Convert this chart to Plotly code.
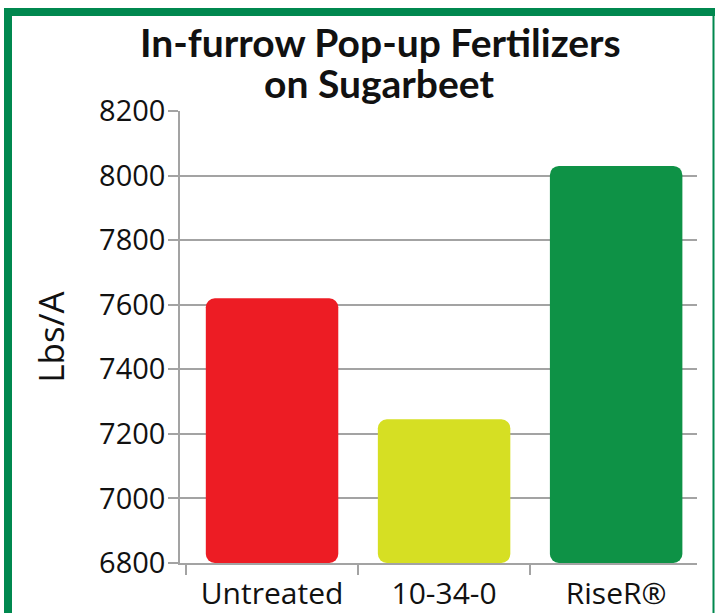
import plotly.graph_objects as go

# ---- data ----
categories = ["Untreated", "10-34-0", "RiseR®"]
yields_lbs_per_acre = [7620, 7245, 8030]
bar_colors = ["#ED1C24", "#D6DF23", "#0E9246"]
y_tick_values = [6800, 7000, 7200, 7400, 7600, 7800, 8000, 8200]
y_floor = 6800
title_line1 = "In-furrow Pop-up Fertilizers"
title_line2 = "on Sugarbeet"
y_title = "Lbs/A"

# ---- layout geometry (pixels) ----
W, H = 715, 613
ML, MR, MT, MB = 180, 18, 111, 50
PW, PH = W - ML - MR, H - MT - MB


def px_x(px):
    return (px - ML) / PW


def px_y(py):
    return 1 - (py - MT) / PH


GRID = "#A3A3A3"
BORDER = "#00884F"
TEXT = "#111111"

fig = go.Figure(
    go.Bar(
        x=categories,
        y=[v - y_floor for v in yields_lbs_per_acre],
        base=y_floor,
        marker=dict(color=bar_colors, line=dict(width=0), cornerradius=9),
        width=0.77,
        hoverinfo="skip",
    )
)

fig.update_layout(
    width=W,
    height=H,
    margin=dict(l=ML, r=MR, t=MT, b=MB, autoexpand=False),
    paper_bgcolor="white",
    plot_bgcolor="white",
    showlegend=False,
    font=dict(family="Open Sans", color=TEXT),
    xaxis=dict(
        type="category",
        range=[-0.535, 2.47],
        tickson="boundaries",
        ticks="outside",
        ticklen=10,
        tickcolor=GRID,
        tickwidth=1.5,
        showline=True,
        linecolor=GRID,
        linewidth=1.5,
        showgrid=False,
        ticklabelstandoff=3,
        tickfont=dict(size=30, family="Open Sans", color=TEXT),
        automargin=False,
    ),
    yaxis=dict(
        range=[6800, 8200],
        tickvals=y_tick_values,
        ticks="outside",
        ticklen=10,
        tickcolor=GRID,
        tickwidth=1.5,
        showline=True,
        linecolor=GRID,
        linewidth=1.5,
        showgrid=True,
        gridcolor=GRID,
        gridwidth=1.5,
        zeroline=False,
        ticklabelstandoff=-3,
        tickfont=dict(size=29, family="Open Sans", color=TEXT),
        title=dict(text=y_title, font=dict(size=35, family="Open Sans", color=TEXT), standoff=24),
        automargin=False,
    ),
    annotations=[
        dict(text=f"<b>{title_line1}</b>", x=px_x(380), y=px_y(42), xref="paper", yref="paper",
             xanchor="center", yanchor="middle", showarrow=False,
             font=dict(size=39, family="Lato", color=TEXT)),
        dict(text=f"<b>{title_line2}</b>", x=px_x(379), y=px_y(83), xref="paper", yref="paper",
             xanchor="center", yanchor="middle", showarrow=False,
             font=dict(size=39, family="Lato", color=TEXT)),
    ],
    shapes=[
        # green frame: left, top, right
        dict(type="line", xref="paper", yref="paper", x0=px_x(8), x1=px_x(8), y0=px_y(8), y1=px_y(640),
             line=dict(color=BORDER, width=8)),
        dict(type="line", xref="paper", yref="paper", x0=px_x(4), x1=px_x(740), y0=px_y(12), y1=px_y(12),
             line=dict(color=BORDER, width=8)),
        dict(type="line", xref="paper", yref="paper", x0=px_x(713.5), x1=px_x(713.5), y0=px_y(12), y1=px_y(640),
             line=dict(color=BORDER, width=2)),
    ],
)

fig.write_html(
    "out.html",
    config={"displayModeBar": False},
    post_script="document.body.style.margin='0px';",
)
